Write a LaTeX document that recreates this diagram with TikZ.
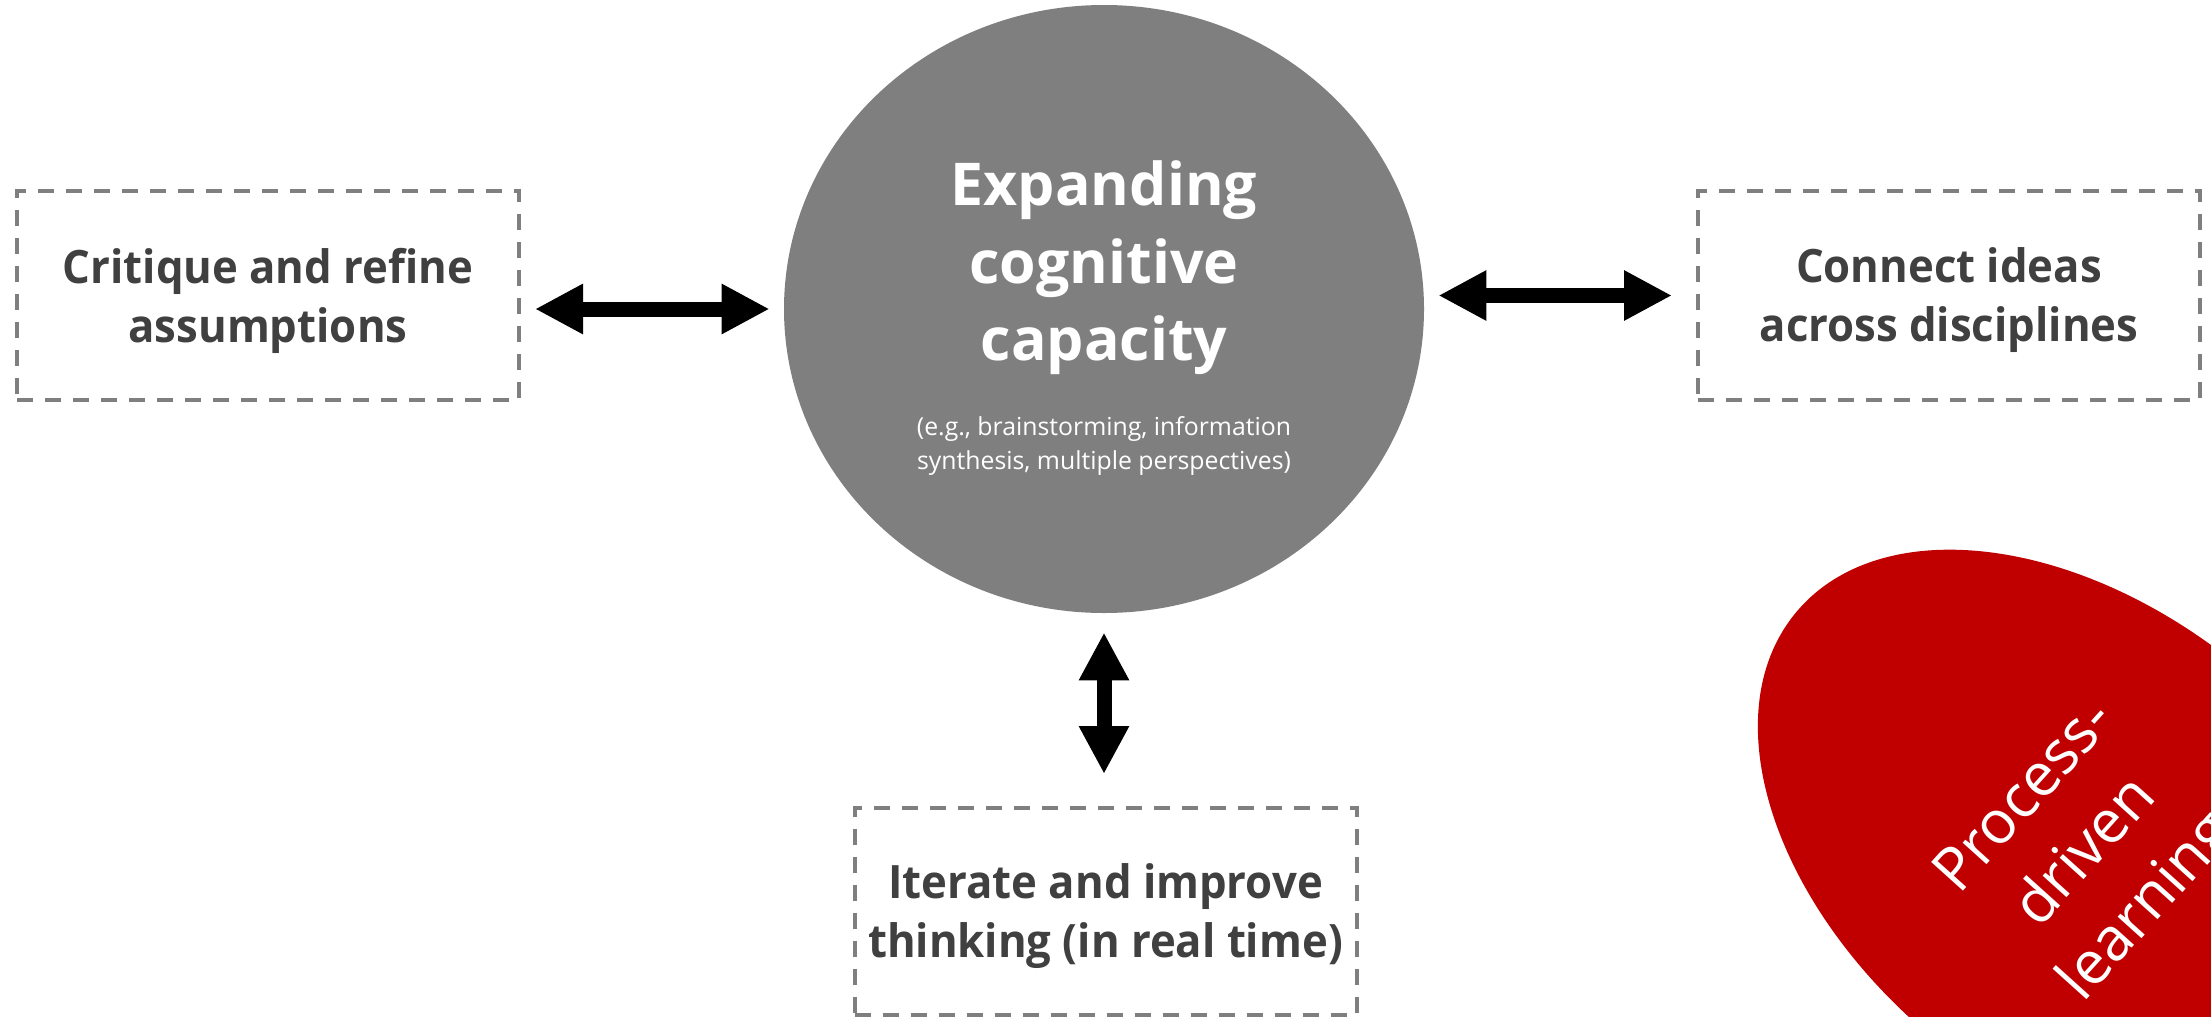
\documentclass[tikz,border=0pt]{standalone}
\usepackage{fontspec}
\setmainfont{Open Sans}
\newfontfamily\boxfont{Open Sans}[FakeStretch=0.95]
\usetikzlibrary{shapes.geometric,arrows.meta}
\definecolor{boxgray}{HTML}{7F7F7F}
\definecolor{txtgray}{HTML}{404040}
\definecolor{circgray}{HTML}{7F7F7F}
\definecolor{blobred}{HTML}{C00000}
\tikzset{
  dashbox/.style={draw=boxgray, line width=2pt, dash pattern=on 8pt off 6pt,
    minimum width=251pt, minimum height=104.5pt, inner sep=0pt, align=center,
    text depth=0.5pt,
    text=txtgray, font=\boxfont\fontsize{23}{29.5}\selectfont\bfseries},
  blockarrow/.style={line width=7.5pt,
    {Triangle[width=23.5pt,length=24pt]}-{Triangle[width=23.5pt,length=24pt]}},
  whitetext/.style={text=white, align=center, inner sep=0pt},
}
\begin{document}
\begin{tikzpicture}[x=0.5pt,y=-0.5pt]
\fill[white] (0,0) rectangle (2211,1017);
\useasboundingbox (0,0) rectangle (2211,1017);

% boxes
\node[dashbox] (lbox) at (268,295.5) {Critique and refine\\assumptions};
\node[dashbox] (rbox) at (1949,295.5) {Connect ideas\\across disciplines};
\node[dashbox, minimum height=103.5pt] (bbox) at (1105.5,911.5) {Iterate and improve\\thinking (in real time)};

% central circle
\node[ellipse, fill=circgray, minimum width=320pt, minimum height=304pt, inner sep=0pt] (circ) at (1104,309) {};
\node[whitetext, font=\fontsize{29.5}{38.8}\selectfont\bfseries] (title) at (1104,268) {Expanding\\cognitive\\capacity};
\node[whitetext, font=\fontsize{12.4}{17}\selectfont] (examples) at (1104,446) {(e.g., brainstorming, information\\synthesis, multiple perspectives)};

% arrows
\draw[blockarrow, shorten <=7pt, shorten >=7pt] (lbox.east |- circ.west) -- (circ.west);
\draw[blockarrow, shorten <=7pt, shorten >=12pt] (circ.east |- rbox.west) -- (rbox.west);
\draw[blockarrow, shorten <=9.5pt, shorten >=16pt] (circ.south) -- (circ.south |- bbox.north);

% red blob
\begin{scope}
\clip (0,0) rectangle (2211,1017);
\node[ellipse, fill=blobred, minimum width=240.7pt, minimum height=379pt, inner sep=0pt, rotate=50.5] (blob) at (2088,854) {};
\node[whitetext, rotate=48, font=\fontsize{30}{41}\selectfont] (blobtext) at (blob.center) {Process-\\driven\\learning};
\end{scope}
\end{tikzpicture}
\end{document}
